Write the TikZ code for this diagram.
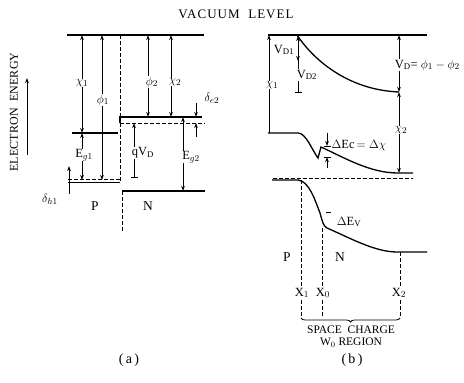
\documentclass[tikz,border=0pt]{standalone}
\usepackage{fontspec}
\setmainfont{Liberation Serif}
\newfontfamily\spacedfont[LetterSpace=8]{Liberation Serif}
\newfontfamily\widefont[LetterSpace=1]{Liberation Serif}
\usetikzlibrary{arrows.meta,decorations.pathreplacing}
\begin{document}
\begin{tikzpicture}[x=1pt,y=-1pt,
  lvl/.style={line width=1.3pt},
  dim/.style={line width=0.8pt},
  dsh/.style={line width=0.8pt,dash pattern=on 3.5pt off 2.5pt},
  both/.style={dim,{Stealth[length=5pt,width=3.6pt]}-{Stealth[length=5pt,width=3.6pt]}},
  tot/.style={dim,-{Stealth[length=5pt,width=3.6pt]}},
  barto/.style={dim,{Bar[width=7pt]}-{Stealth[length=5pt,width=3.6pt]}},
  lab/.style={fill=white,inner sep=0.6pt,font=\fontsize{12.5}{14}\selectfont},
  txt/.style={inner sep=0.5pt,font=\fontsize{12.5}{14}\selectfont}]
\useasboundingbox (0,0) rectangle (464,383);
% ---------- titles
\node[txt,font=\spacedfont\fontsize{13}{15}\selectfont] (vac) at (236,14) {VACUUM\ \ LEVEL};
\node[txt,rotate=90,font=\widefont\fontsize{12}{14}\selectfont] (ee) at (14,112) {ELECTRON\ \ ENERGY};
\coordinate (eeb) at (27,155); \coordinate (eet) at (27,78);
\draw[tot] (eeb) -- (eet);
% ---------- (a) levels
\draw[lvl] (67,35) -- (204,35);
\draw[dsh] (120,35) -- (120,117);
\draw[dsh] (120,123) -- (120,183);
\draw[dsh] (122,191) -- (122,233);
\draw[lvl] (72,133) -- (118,133);
\draw[dsh] (68,179.5) -- (120,179.5);
\draw[lvl] (68,182.5) -- (120,182.5);
\draw[lvl] (120,123) -- (120,117) -- (202,117);
\draw[dsh] (120,123) -- (205,123);
\draw[lvl] (122,191) -- (205,191);
% ---------- (a) dimensions
\draw[both] (82,35) -- (82,133);
\node[lab] (chi1) at (82,83) {$\chi_1$};
\draw[both] (102,35) -- (102,180);
\node[lab] (phi1) at (103,100) {$\phi_1$};
\draw[both] (82,133) -- (82,180);
\node[lab] (eg1) at (84,155) {E$_{g1}$};
\draw[both] (148,35) -- (148,117);
\node[lab] (phi2) at (152,82) {$\phi_2$};
\draw[both] (171,35) -- (171,117);
\node[lab] (chi2) at (175,82) {$\chi_2$};
\draw[tot] (196,103) -- (196,117);
\draw[tot] (196,137) -- (196,123);
\node[txt] (de2) at (212,98) {$\delta_{e2}$};
\draw[barto] (134,178) -- (134,123);
\node[lab] (qvd) at (143,153) {qV$_{\mathrm{D}}$};
\draw[both] (183,117) -- (183,191);
\node[lab] (eg2) at (191,157) {E$_{g2}$};
\draw[tot] (69,194) -- (69,166);
\node[txt] (dh1) at (50,199) {$\delta_{h1}$};
\node[txt,font=\fontsize{13.5}{15}\selectfont] (P) at (95,206) {P};
\node[txt,font=\fontsize{13.5}{15}\selectfont] (N) at (148,206) {N};
\node[txt,font=\fontsize{14}{16}\selectfont] (capa) at (129,360) {(\,a\,)};
% ---------- (b) levels
\draw[lvl] (268,35) -- (427,35);
\draw[lvl] (297,35) .. controls (315,62) and (350,90) .. (399,92);
\draw[lvl] (268,133) -- (298,133) .. controls (306,133) and (312,150) .. (318,158)
   -- (321,147) .. controls (345,158) and (370,173) .. (398,173) -- (413,173);
\draw[dsh] (273,178) -- (413,178);
\draw[lvl] (272,180) -- (298,180) .. controls (309,181) and (315,200) .. (320,213)
   .. controls (322,220) and (323,226) .. (327,228)
   .. controls (350,238) and (375,252) .. (397,252) -- (427,252);
% ---------- (b) dimensions
\draw[dim,{Stealth[length=5pt,width=3.6pt]}-] (269,35) -- (269,133);
\node[lab] (chi1b) at (272,85) {$\chi_1$};
\node[txt] (vd1) at (284,50) {V$_{\mathrm{D1}}$};
\draw[dim,{Stealth[length=5pt,width=3.6pt]}-{Bar[width=7pt]}] (298,36) -- (298,93);
\draw[tot] (298,47) -- (298,61);
\node[lab] (vd2) at (307,75) {V$_{\mathrm{D2}}$};
\draw[both] (399,35) -- (399,92);
\node[lab,anchor=west] (vd) at (394,65) {V$_{\mathrm{D}}$= $\phi_1-\phi_2$};
\draw[both] (399,92) -- (399,173);
\node[lab] (chi2b) at (401,130) {$\chi_2$};
\draw[tot] (327,133) -- (327,146);
\draw[dim] (323.5,146) -- (330.5,146);
\draw[tot] (327,168) -- (327,157);
\draw[dim] (323.5,157) -- (330.5,157);
\node[txt,anchor=west] (dec) at (331,146) {$\Delta$Ec$\,=\Delta\chi$};
\draw[dim] (326,212) -- (331,212);
\node[txt] (dev) at (349,222) {$\Delta$E$_{\mathrm{V}}$};
\draw[dsh] (301,180) -- (301,318);
\draw[dsh] (322,228) -- (322,318);
\draw[dsh] (400,252) -- (400,318);
\node[lab] (x1) at (302,293) {X$_1$};
\node[lab] (x0) at (323,293) {X$_0$};
\node[lab] (x2) at (399,293) {X$_2$};
\node[txt,font=\fontsize{13.5}{15}\selectfont] (Pb) at (287,257) {P};
\node[txt,font=\fontsize{13.5}{15}\selectfont] (Nb) at (340,257) {N};
\coordinate (bl) at (301,318); \coordinate (br) at (400,318);
\draw[dim,decorate,decoration={brace,amplitude=4pt,mirror}] (bl) -- (br);
\node[txt,font=\fontsize{11.5}{13}\selectfont] (sc) at (351,330) {SPACE\ \ CHARGE};
\node[txt,font=\fontsize{11.5}{13}\selectfont] (w0) at (351,343) {W$_0$ REGION};
\node[txt,font=\fontsize{14}{16}\selectfont] (capb) at (352,360) {(\,b\,)};
\end{tikzpicture}
\end{document}
